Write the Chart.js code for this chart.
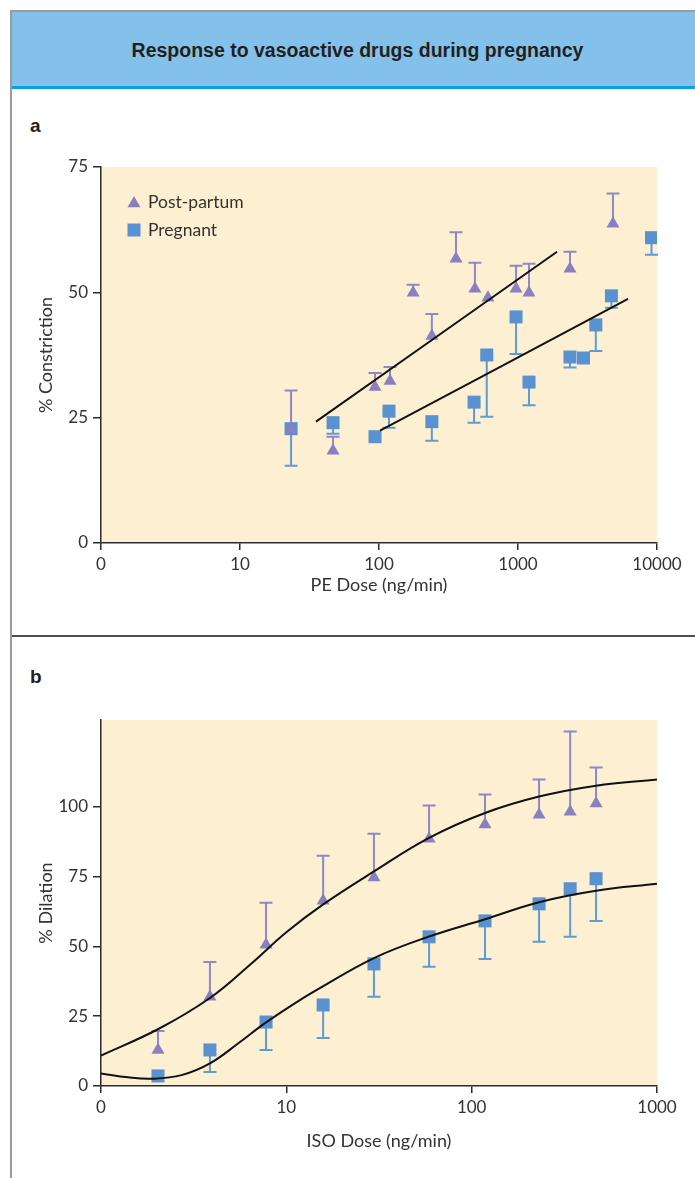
<!DOCTYPE html>
<html>
<head>
<meta charset="utf-8">
<title>Response to vasoactive drugs during pregnancy</title>
<script src="https://cdn.jsdelivr.net/npm/chart.js@4.4.1/dist/chart.umd.min.js"></script>
<style>
  html, body { margin: 0; padding: 0; background: #fff; }
  body { width: 695px; height: 1178px; position: relative; overflow: hidden; }
  #frameTop { position: absolute; left: 10px; top: 10px; width: 685px; height: 2px; background: #9b9b9b; }
  #frameLeft { position: absolute; left: 10px; top: 10px; width: 2px; height: 1168px; background: #9b9b9b; }
  #header { position: absolute; left: 12px; top: 12px; width: 683px; height: 74px; background: #83c1eb; border-bottom: 3px solid #0aa1dd; }
  #header h1 { margin: 0; position: absolute; left: 0; right: -8px; top: 0;
               font: bold 19.5px "Liberation Sans", Arial, sans-serif; line-height: 76px; text-align: center; color: #231f20; }
  .panel-label { position: absolute; left: 30px; font: bold 19px "Liberation Sans", Arial, sans-serif; line-height: 20px; color: #231f20; }
  #sep { position: absolute; left: 12px; top: 635px; width: 683px; height: 2px; background: #505050; }
  canvas { position: absolute; left: 0; }
</style>
</head>
<body>
<div id="frameTop"></div>
<div id="frameLeft"></div>
<div id="header"><h1>Response to vasoactive drugs during pregnancy</h1></div>
<div class="panel-label" style="top:116px">a</div>
<canvas id="canvasA" width="695" height="543" style="top:90px"></canvas>
<div id="sep"></div>
<div class="panel-label" style="top:667px">b</div>
<canvas id="canvasB" width="695" height="538" style="top:640px"></canvas>

<script>
'use strict';

// panel a: phenylephrine (PE), % constriction
const peTicks = [1, 10, 100, 1000, 10000];
const constrTicks = [0, 25, 50, 75];
const pePostDose = [23.3, 46.7, 93.6, 120, 176, 240, 358, 490, 608, 968, 1200, 2366, 4823];
const pePostResp = [22.6, 18.4, 31.1, 32.3, 49.9, 41.3, 56.7, 50.7, 48.9, 50.7, 49.9, 54.7, 63.7];
const pePostErr  = [30.4, 21.2, 33.9, 35.1, 51.5, 45.7, 62.0, 55.9, null, 55.3, 55.7, 58.1, 69.7];
const pePregDose = [23.3, 46.7, 93.6, 118, 240, 483, 596, 968, 1200, 2366, 2960, 3630, 4700, 9130];
const pePregResp = [22.8, 24.0, 21.2, 26.3, 24.2, 28.1, 37.5, 45.1, 32.1, 37.1, 36.9, 43.5, 49.3, 60.9];
const pePregErr  = [15.4, 21.8, null, 23.0, 20.4, 24.0, 25.2, 37.7, 27.5, 35.0, null, 38.3, 46.9, 57.5];
const pePostFitDose = [35.2, 1909];
const pePostFitResp = [24.2, 58.1];
const pePregFitDose = [101.7, 6185];
const pePregFitResp = [22.4, 48.7];

// panel b: isoproterenol (ISO), % dilation
const isoTicks = [1, 10, 100, 1000];
const dilTicks = [0, 25, 50, 75, 100];
const isoDose     = [2.03, 3.87, 7.77, 15.8, 29.7, 58.9, 118, 231, 340, 469];
const isoPostResp = [12.9, 31.9, 50.6, 66.3, 74.6, 88.5, 93.6, 97.1, 98.2, 101.1];
const isoPostErr  = [19.7, 44.4, 65.6, 82.4, 90.3, 100.4, 104.3, 109.7, 126.9, 114.0];
const isoPregResp = [3.6, 12.9, 22.9, 29.0, 43.7, 53.4, 59.1, 65.2, 70.6, 74.2];
const isoPregErr  = [null, 5.0, 12.9, 17.2, 31.9, 42.7, 45.5, 51.6, 53.4, 59.1];
const isoPostFitDose = [1, 2.04, 3.87, 6.37, 10, 15.8, 29.7, 58.9, 118, 231, 469, 1000];
const isoPostFitResp = [10.9, 20.4, 31.5, 43.4, 55.0, 65.0, 76.8, 88.8, 97.7, 103.6, 107.5, 109.7];
const isoPregFitDose = [1, 1.4, 1.88, 2.72, 3.87, 5.51, 7.67, 11.1, 14.6, 29.7, 58.9, 118, 231, 469, 1000];
const isoPregFitResp = [4.5, 3.1, 2.6, 3.9, 8.1, 15.3, 22.5, 29.6, 34.4, 45.8, 53.5, 59.7, 65.8, 69.9, 72.4];

const seriesLabels = ['Post-partum', 'Pregnant'];

const postColor = '#8a80c0';
const postErrColor = '#8f88c6';
const pregColor = '#5a91d0';
const pregErrColor = '#5f9bd4';
const axisColor = '#2b2b2b';
const textColor = '#333333';
const FONT = 'Lato, "Noto Sans", sans-serif';

function pts(xs, ys) {
    return xs.map((x, i) => ({x: x, y: ys[i]}));
}

function drawMarker(ctx, style, cx, cy, r) {
    ctx.beginPath();
    if (style === 'triangle') {
        ctx.moveTo(cx, cy - r);
        ctx.lineTo(cx + r * 0.866, cy + r / 2);
        ctx.lineTo(cx - r * 0.866, cy + r / 2);
        ctx.closePath();
    } else {
        const s = r * Math.SQRT1_2;
        ctx.rect(cx - s, cy - s, 2 * s, 2 * s);
    }
    ctx.fill();
}

// beige plot background
const plotBg = {
    id: 'plotBg',
    beforeDraw(chart) {
        const a = chart.chartArea;
        const ctx = chart.ctx;
        ctx.save();
        ctx.fillStyle = '#fdefd1';
        ctx.fillRect(a.left, a.top, a.right - a.left, a.bottom - a.top);
        ctx.restore();
    }
};

// one-sided error bars, under the markers
const errorBars = {
    id: 'errorBars',
    beforeDatasetsDraw(chart) {
        const ctx = chart.ctx;
        const xs = chart.scales.x;
        const ys = chart.scales.y;
        chart.data.datasets.forEach(ds => {
            if (!ds.errTo) return;
            ctx.save();
            ctx.strokeStyle = ds.errColor;
            ctx.lineWidth = 2;
            ds.data.forEach((p, i) => {
                const e = ds.errTo[i];
                if (e === null || e === undefined) return;
                const px = xs.getPixelForValue(p.x);
                const y0 = ys.getPixelForValue(p.y);
                const y1 = ys.getPixelForValue(e);
                ctx.beginPath();
                ctx.moveTo(px, y0);
                ctx.lineTo(px, y1);
                ctx.moveTo(px - 6.5, y1);
                ctx.lineTo(px + 6.5, y1);
                ctx.stroke();
            });
            ctx.restore();
        });
    }
};

// legend inside the plot, top left
const insetLegend = {
    id: 'insetLegend',
    afterDatasetsDraw(chart, args, opts) {
        if (!opts.show) return;
        const ctx = chart.ctx;
        const a = chart.chartArea;
        const marks = chart.data.datasets.filter(ds => ds.errTo);
        ctx.save();
        marks.forEach((ds, i) => {
            const cy = a.top + 35 + i * 28;
            const cx = a.left + 33;
            ctx.fillStyle = ds.backgroundColor;
            drawMarker(ctx, ds.pointStyle, cx, ds.pointStyle === 'triangle' ? cy + 1.5 : cy, ds.pointRadius);
            ctx.fillStyle = textColor;
            ctx.font = '17.5px ' + FONT;
            ctx.textBaseline = 'middle';
            ctx.textAlign = 'left';
            ctx.fillText(ds.label, a.left + 47, cy);
        });
        ctx.restore();
    }
};

function makeConfig(p) {
    return {
        type: 'scatter',
        data: {
            datasets: [
                {label: 'fit1', data: pts(p.fit1x, p.fit1y), showLine: true, pointRadius: 0,
                 borderColor: '#111', borderWidth: 2, tension: 0.4},
                {label: 'fit2', data: pts(p.fit2x, p.fit2y), showLine: true, pointRadius: 0,
                 borderColor: '#111', borderWidth: 2, tension: 0.4},
                {label: seriesLabels[0], data: pts(p.postX, p.postY), errTo: p.postErr, errColor: postErrColor,
                 pointStyle: 'triangle', pointRadius: 7.5, backgroundColor: postColor, borderWidth: 0},
                {label: seriesLabels[1], data: pts(p.pregX, p.pregY), errTo: p.pregErr, errColor: pregErrColor,
                 pointStyle: 'rect', pointRadius: 9.2, backgroundColor: pregColor, borderWidth: 0}
            ]
        },
        options: {
            responsive: false,
            animation: false,
            devicePixelRatio: 1,
            events: [],
            layout: {padding: {left: 0, right: 38, top: p.padTop, bottom: 0}},
            plugins: {
                legend: {display: false},
                tooltip: {enabled: false},
                insetLegend: {show: p.legend}
            },
            scales: {
                x: {
                    type: 'logarithmic',
                    min: p.xTicks[0],
                    max: p.xTicks[p.xTicks.length - 1],
                    afterBuildTicks: s => { s.ticks = p.xTicks.map(v => ({value: v})); },
                    afterFit: s => { s.height = p.xHeight; },
                    border: {display: true, color: axisColor, width: 1.5},
                    grid: {display: true, drawOnChartArea: false, drawTicks: true, tickLength: 7, color: axisColor, lineWidth: 1.5},
                    ticks: {color: textColor, font: {family: FONT, size: 17}, padding: 4, maxRotation: 0,
                            autoSkip: false, callback: v => (v === 1 ? '0' : String(v))},
                    title: {display: true, text: p.xTitle, color: textColor, font: {family: FONT, size: 18},
                            padding: {top: 0, bottom: p.xTitlePad}}
                },
                y: {
                    type: 'linear',
                    min: 0,
                    max: p.yMax,
                    afterBuildTicks: s => { s.ticks = p.yTicks.map(v => ({value: v})); },
                    afterFit: s => { s.width = 101; },
                    border: {display: true, color: axisColor, width: 1.5},
                    grid: {display: true, drawOnChartArea: false, drawTicks: true, tickLength: 8, color: axisColor, lineWidth: 1.5},
                    ticks: {color: textColor, font: {family: FONT, size: 17}, padding: 5},
                    title: {display: true, text: p.yTitle, color: textColor, font: {family: FONT, size: 18},
                            padding: {top: 35, bottom: 0}}
                }
            }
        },
        plugins: [plotBg, errorBars, insetLegend]
    };
}

const configA = makeConfig({
    fit1x: pePostFitDose, fit1y: pePostFitResp,
    fit2x: pePregFitDose, fit2y: pePregFitResp,
    postX: pePostDose, postY: pePostResp, postErr: pePostErr,
    pregX: pePregDose, pregY: pePregResp, pregErr: pePregErr,
    xTicks: peTicks, yTicks: constrTicks, yMax: 75,
    xTitle: 'PE Dose (ng/min)', yTitle: '% Constriction',
    padTop: 77, xHeight: 90, xTitlePad: 37, legend: true
});

const configB = makeConfig({
    fit1x: isoPostFitDose, fit1y: isoPostFitResp,
    fit2x: isoPregFitDose, fit2y: isoPregFitResp,
    postX: isoDose, postY: isoPostResp, postErr: isoPostErr,
    pregX: isoDose, pregY: isoPregResp, pregErr: isoPregErr,
    xTicks: isoTicks, yTicks: dilTicks, yMax: 131,
    xTitle: 'ISO Dose (ng/min)', yTitle: '% Dilation',
    padTop: 80, xHeight: 92, xTitlePad: 26, legend: false
});

const chartA = new Chart(document.querySelector('#canvasA').getContext('2d'), configA);
const chartB = new Chart(document.querySelector('#canvasB').getContext('2d'), configB);
</script>
</body>
</html>
